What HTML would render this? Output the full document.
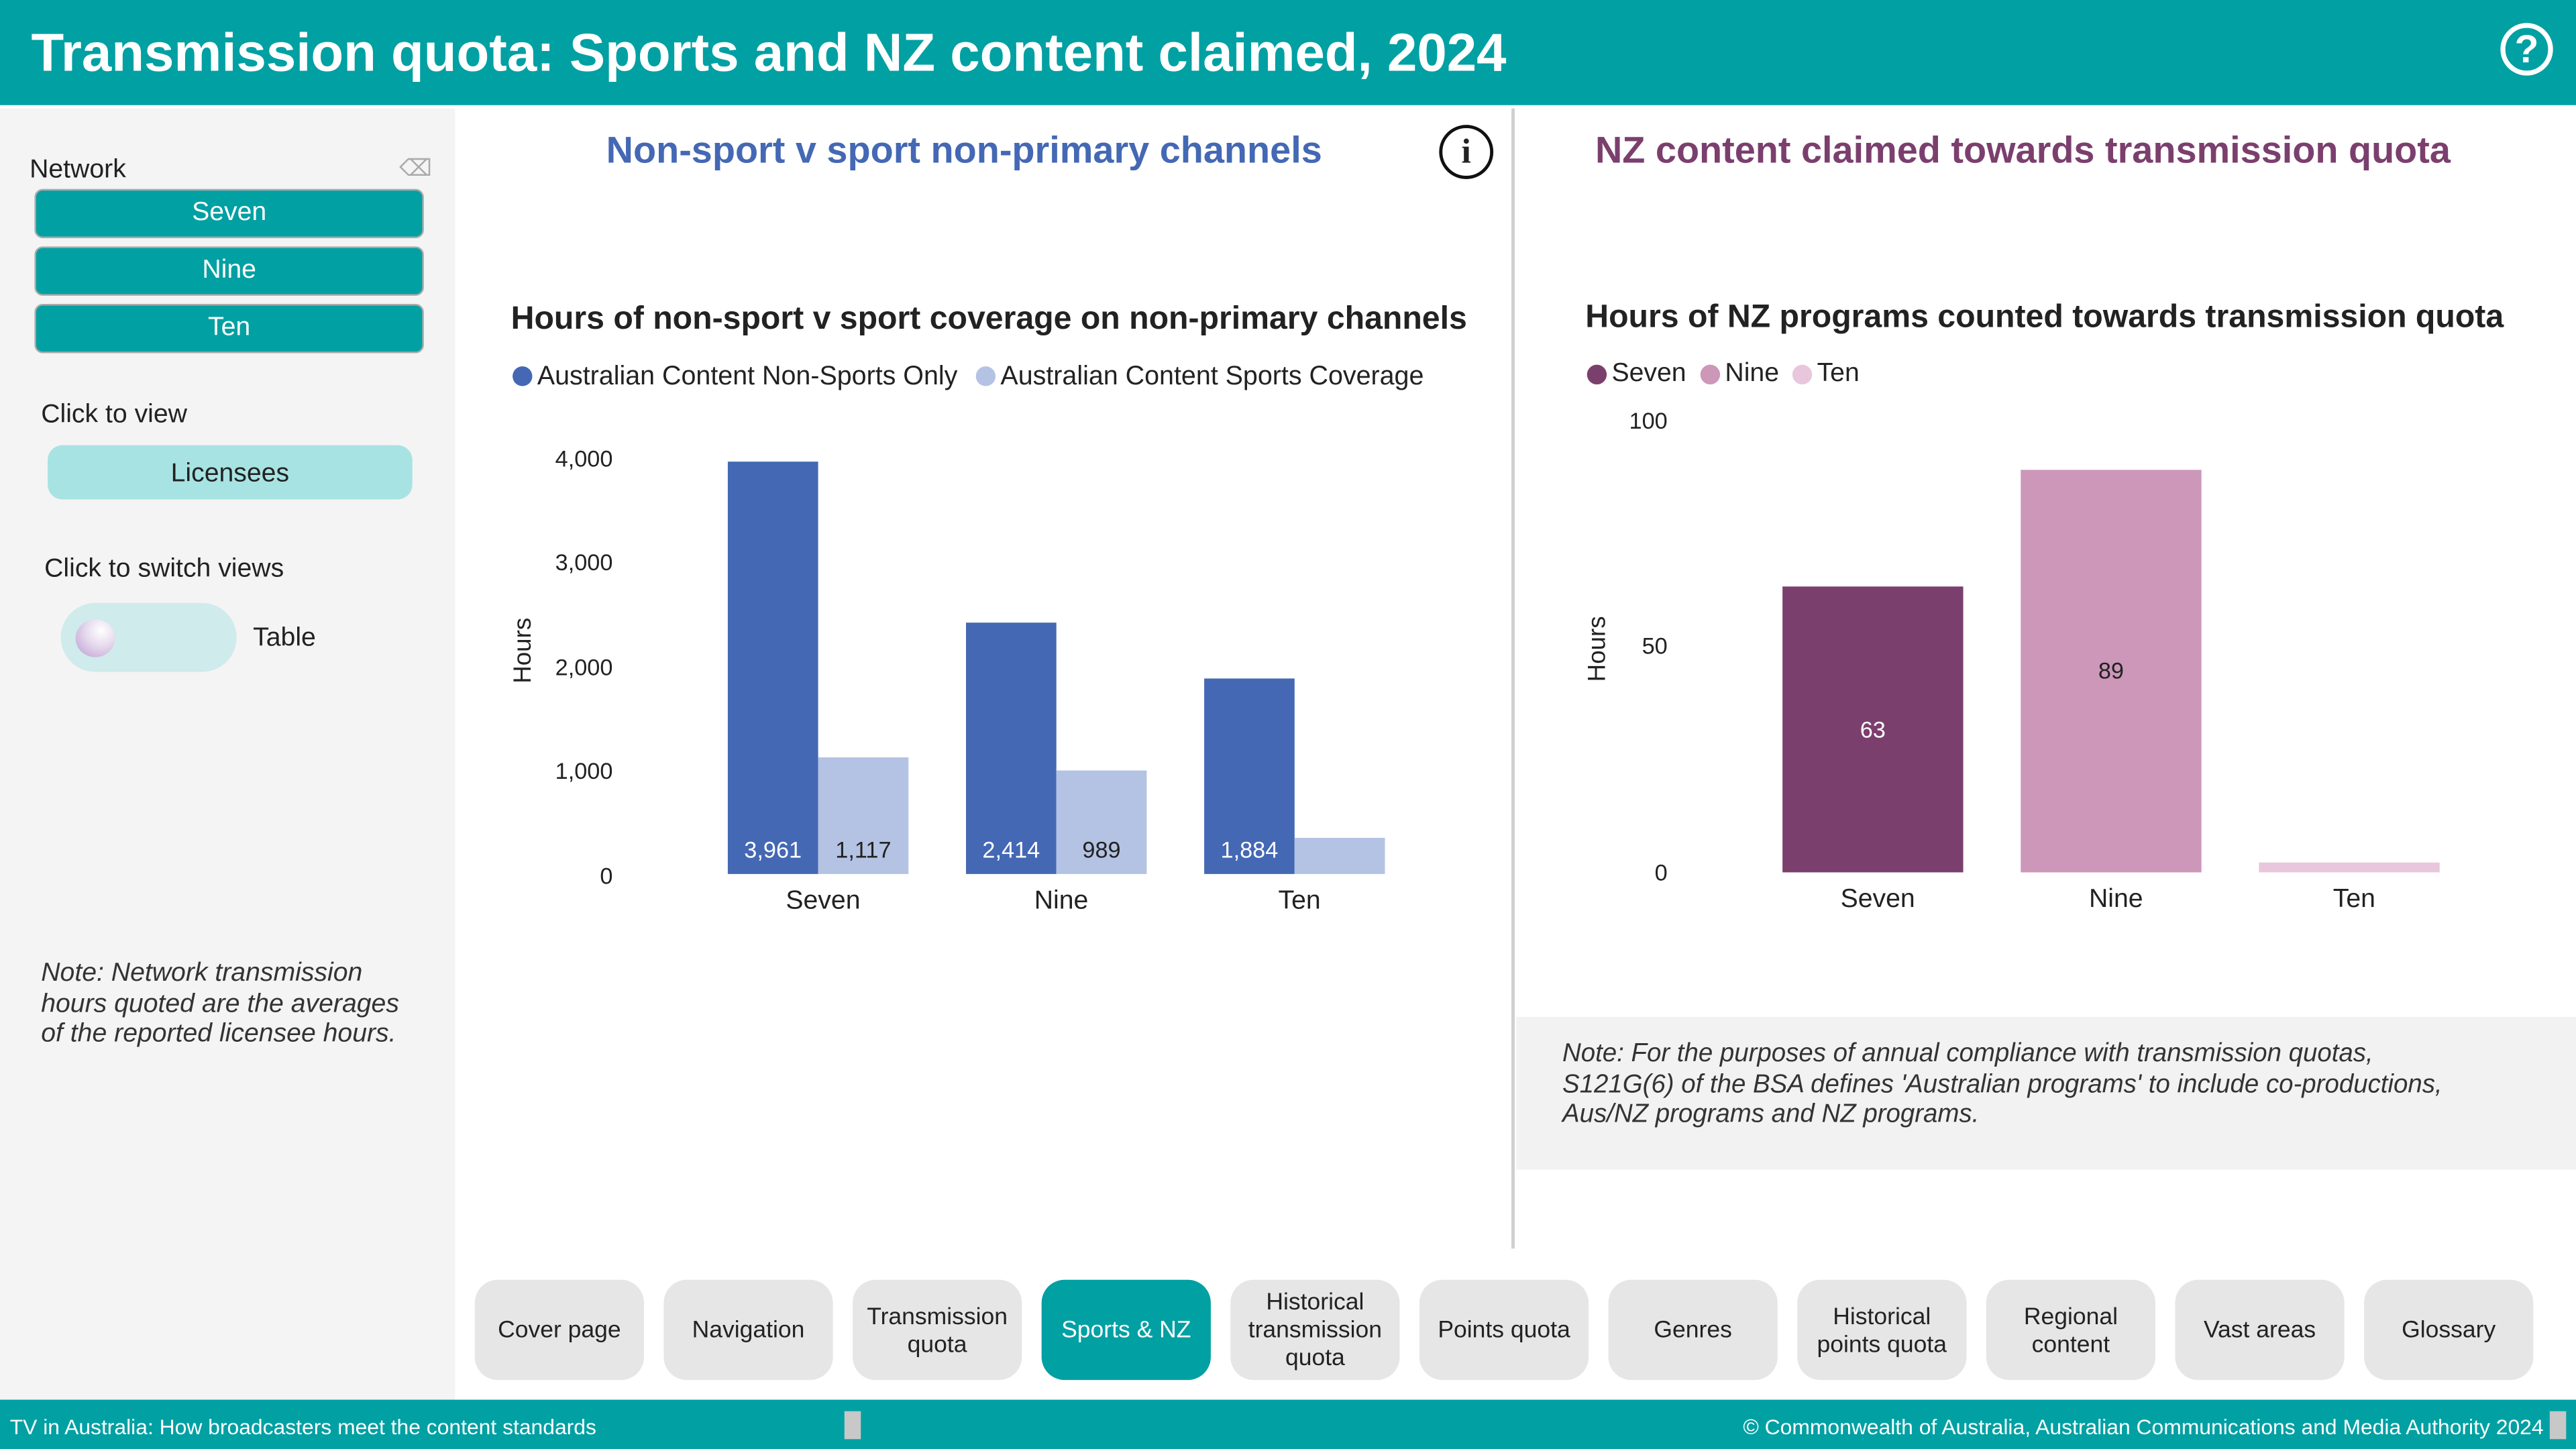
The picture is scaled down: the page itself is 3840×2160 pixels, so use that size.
<!DOCTYPE html>
<html><head><meta charset="utf-8"><style>
html,body{margin:0;padding:0;width:3840px;height:2160px;overflow:hidden;background:#fff}
#w{position:absolute;left:0;top:0;width:1568px;height:882px;transform:scale(2.44898);transform-origin:0 0;font-family:"Liberation Sans",Arial,sans-serif;color:#222}
.a{position:absolute;white-space:nowrap}
.btn{position:absolute;background:#00a0a3;color:#fff;border:1.5px solid #aaa;border-radius:5px;text-align:center;font-size:16px;box-sizing:border-box}
.nav{position:absolute;top:779px;width:103px;height:61px;background:#e6e6e6;border-radius:14px;display:flex;align-items:center;justify-content:center;text-align:center;font-size:14.5px;line-height:17px;color:#222;padding-top:2px;box-sizing:border-box}
.bar{position:absolute}
.lbl{position:absolute;font-size:14px;color:#fff;text-align:center;white-space:nowrap}
.tk{position:absolute;font-size:14px;text-align:right;width:50px}
</style></head><body><div id="w">
<div class="a" style="left:0;top:0;width:1568px;height:64px;background:#00a0a3"></div>
<div class="a" style="left:19px;top:13px;font-size:32.6px;font-weight:bold;color:#fff">Transmission quota: Sports and NZ content claimed, 2024</div>
<div class="a" style="left:1522px;top:14px;width:32px;height:32px;border:3px solid #fff;border-radius:50%;box-sizing:border-box;color:#fff;font-weight:bold;font-size:24px;text-align:center;line-height:27px">?</div>

<div class="a" style="left:0;top:66px;width:277px;height:786px;background:#f4f4f4"></div>
<div class="a" style="left:18px;top:95px;font-size:16px">Network</div>
<div class="a" style="left:243px;top:94px;font-size:14px;color:#aaa">⌫</div>
<div class="btn" style="left:21px;top:115px;width:237px;height:30px;line-height:28px">Seven</div>
<div class="btn" style="left:21px;top:150px;width:237px;height:30px;line-height:28px">Nine</div>
<div class="btn" style="left:21px;top:185px;width:237px;height:30px;line-height:28px">Ten</div>
<div class="a" style="left:25px;top:244px;font-size:16px">Click to view</div>
<div class="a" style="left:29px;top:271px;width:222px;height:33px;background:#a8e3e3;border-radius:9px;text-align:center;line-height:35px;font-size:16px">Licensees</div>
<div class="a" style="left:27px;top:338px;font-size:16px">Click to switch views</div>
<div class="a" style="left:37px;top:367px;width:107px;height:42px;background:#cfebec;border-radius:21px"></div>
<div class="a" style="left:46px;top:377px;width:24px;height:23px;border-radius:50%;background:radial-gradient(circle at 65% 30%,#fff,#e8dcef 40%,#b99ad0)"></div>
<div class="a" style="left:154px;top:380px;font-size:16px">Table</div>
<div class="a" style="left:25px;top:584px;font-size:16px;font-style:italic;line-height:18.5px;color:#333">Note: Network transmission<br>hours quoted are the averages<br>of the reported licensee hours.</div>

<div class="a" style="left:920px;top:66px;width:2px;height:694px;background:#d0d0d0"></div>

<!-- left chart -->
<div class="a" style="left:369px;top:78px;font-size:22.8px;font-weight:bold;color:#4468b4">Non-sport v sport non-primary channels</div>
<div class="a" style="left:876px;top:76px;width:33px;height:33px;border:2.5px solid #111;border-radius:50%;box-sizing:border-box;text-align:center;font:bold 21px/28px 'Liberation Serif',serif">i</div>
<div class="a" style="left:311px;top:183px;font-size:19.7px;font-weight:bold">Hours of non-sport v sport coverage on non-primary channels</div>
<div class="a" style="left:312px;top:223px;width:12px;height:12px;border-radius:50%;background:#4468b4"></div>
<div class="a" style="left:327px;top:220px;font-size:16.1px">Australian Content Non-Sports Only</div>
<div class="a" style="left:594px;top:223px;width:12px;height:12px;border-radius:50%;background:#b4c3e3"></div>
<div class="a" style="left:609px;top:220px;font-size:16.1px">Australian Content Sports Coverage</div>
<div class="a" style="left:310px;top:416px;font-size:15px;transform:rotate(-90deg);transform-origin:0 0">Hours</div>
<div class="tk" style="left:323px;top:271px">4,000</div>
<div class="tk" style="left:323px;top:334px">3,000</div>
<div class="tk" style="left:323px;top:398px">2,000</div>
<div class="tk" style="left:323px;top:461px">1,000</div>
<div class="tk" style="left:323px;top:525px">0</div>
<div class="bar" style="left:443px;top:281px;width:55px;height:251px;background:#4468b4"></div>
<div class="bar" style="left:498px;top:461px;width:55px;height:71px;background:#b4c3e3"></div>
<div class="bar" style="left:588px;top:379px;width:55px;height:153px;background:#4468b4"></div>
<div class="bar" style="left:643px;top:469px;width:55px;height:63px;background:#b4c3e3"></div>
<div class="bar" style="left:733px;top:413px;width:55px;height:119px;background:#4468b4"></div>
<div class="bar" style="left:788px;top:510px;width:55px;height:22px;background:#b4c3e3"></div>
<div class="lbl" style="left:443px;top:509px;width:55px">3,961</div>
<div class="lbl" style="left:498px;top:509px;width:55px;color:#222">1,117</div>
<div class="lbl" style="left:588px;top:509px;width:55px">2,414</div>
<div class="lbl" style="left:643px;top:509px;width:55px;color:#222">989</div>
<div class="lbl" style="left:733px;top:509px;width:55px">1,884</div>
<div class="a" style="left:446px;top:540px;width:110px;text-align:center;font-size:16px">Seven</div>
<div class="a" style="left:591px;top:540px;width:110px;text-align:center;font-size:16px">Nine</div>
<div class="a" style="left:736px;top:540px;width:110px;text-align:center;font-size:16px">Ten</div>

<!-- right chart -->
<div class="a" style="left:971px;top:78px;font-size:22.8px;font-weight:bold;color:#7b3f6e">NZ content claimed towards transmission quota</div>
<div class="a" style="left:965px;top:182px;font-size:19.7px;font-weight:bold">Hours of NZ programs counted towards transmission quota</div>
<div class="a" style="left:966px;top:222px;width:12px;height:12px;border-radius:50%;background:#7b3f6e"></div>
<div class="a" style="left:981px;top:219px;font-size:16px">Seven</div>
<div class="a" style="left:1035px;top:222px;width:12px;height:12px;border-radius:50%;background:#cc97b8"></div>
<div class="a" style="left:1050px;top:219px;font-size:16px">Nine</div>
<div class="a" style="left:1091px;top:222px;width:12px;height:12px;border-radius:50%;background:#e8c7dc"></div>
<div class="a" style="left:1106px;top:219px;font-size:16px">Ten</div>
<div class="a" style="left:964px;top:415px;font-size:15px;transform:rotate(-90deg);transform-origin:0 0">Hours</div>
<div class="tk" style="left:965px;top:248px">100</div>
<div class="tk" style="left:965px;top:385px">50</div>
<div class="tk" style="left:965px;top:523px">0</div>
<div class="bar" style="left:1085px;top:357px;width:110px;height:174px;background:#7b3f6e"></div>
<div class="bar" style="left:1230px;top:286px;width:110px;height:245px;background:#cc97b8"></div>
<div class="bar" style="left:1375px;top:525px;width:110px;height:6px;background:#e8c7dc"></div>
<div class="lbl" style="left:1085px;top:436px;width:110px">63</div>
<div class="lbl" style="left:1230px;top:400px;width:110px;color:#222">89</div>
<div class="a" style="left:1088px;top:539px;width:110px;text-align:center;font-size:16px">Seven</div>
<div class="a" style="left:1233px;top:539px;width:110px;text-align:center;font-size:16px">Nine</div>
<div class="a" style="left:1378px;top:539px;width:110px;text-align:center;font-size:16px">Ten</div>

<div class="a" style="left:923px;top:619px;width:645px;height:93px;background:#f2f2f2"></div>
<div class="a" style="left:951px;top:633px;font-size:15.7px;font-style:italic;line-height:18.5px;color:#333">Note: For the purposes of annual compliance with transmission quotas,<br>S121G(6) of the BSA defines 'Australian programs' to include co-productions,<br>Aus/NZ programs and NZ programs.</div>

<!-- nav -->
<div class="nav" style="left:289px">Cover page</div>
<div class="nav" style="left:404px">Navigation</div>
<div class="nav" style="left:519px">Transmission<br>quota</div>
<div class="nav" style="left:634px;background:#00a0a3;color:#fff">Sports &amp; NZ</div>
<div class="nav" style="left:749px">Historical<br>transmission<br>quota</div>
<div class="nav" style="left:864px">Points quota</div>
<div class="nav" style="left:979px">Genres</div>
<div class="nav" style="left:1094px">Historical<br>points quota</div>
<div class="nav" style="left:1209px">Regional<br>content</div>
<div class="nav" style="left:1324px">Vast areas</div>
<div class="nav" style="left:1439px">Glossary</div>

<div class="a" style="left:0;top:852px;width:1568px;height:30px;background:#00a0a3"></div>
<div class="a" style="left:6px;top:861px;font-size:13px;color:#fff">TV in Australia: How broadcasters meet the content standards</div>
<div class="a" style="left:514px;top:859px;width:10px;height:17px;background:#c8c8c8"></div>
<div class="a" style="left:1061px;top:861px;font-size:13px;color:#fff">© Commonwealth of Australia, Australian Communications and Media Authority 2024</div>
<div class="a" style="left:1552px;top:859px;width:10px;height:17px;background:#c8c8c8"></div>
</div></body></html>
